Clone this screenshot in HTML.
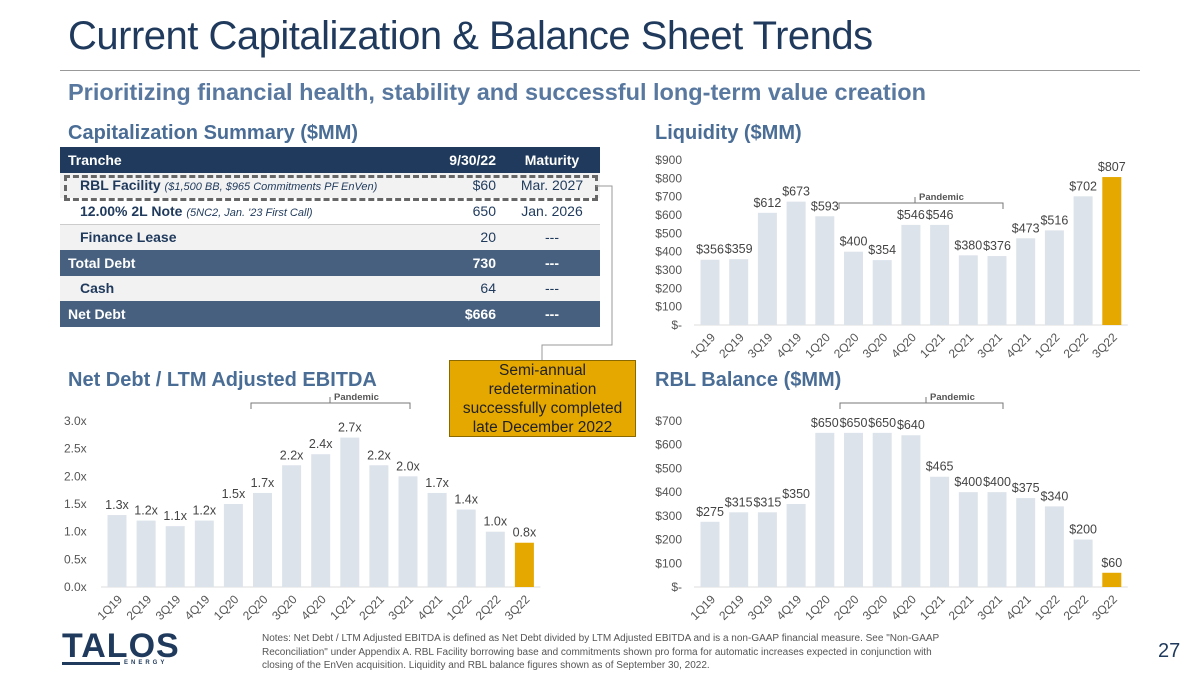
<!DOCTYPE html>
<html><head><meta charset="utf-8">
<style>
body{margin:0;width:1200px;height:675px;background:#fff;font-family:"Liberation Sans",sans-serif;position:relative;overflow:hidden}
.abs{position:absolute}
h1{position:absolute;left:68px;top:14px;margin:0;font-weight:normal;font-size:40px;color:#1f3a5c;letter-spacing:-0.5px}
.sub{left:68px;top:79px;font-size:23.5px;font-weight:bold;color:#5878a0;letter-spacing:0px}
.sec{font-size:20px;font-weight:bold;color:#4a6d96}
table{position:absolute;left:60px;top:147px;width:540px;border-collapse:collapse;font-size:14px;color:#1f3a5c}
td{height:25.5px;padding:0 8px;white-space:nowrap}
tr.hd td{background:#1f3a5c;color:#fff;font-weight:bold}
tr.tot td{background:#47607f;color:#fff;font-weight:bold}
tr.lt td{background:#f2f2f2}
tr.wh td{background:#fff;border-bottom:1px solid #ccc}
td.v{text-align:right;width:70px}
td.m{text-align:center;width:80px}
i{font-size:11px;font-weight:normal}
.callout{left:449px;top:360px;width:187px;height:77px;background:#e5a800;border:1px solid #8a6a00;box-sizing:border-box;font-size:15.5px;text-align:center;line-height:19px;color:#222;padding-top:0px}
.notes{left:262px;top:632px;width:700px;font-size:10px;color:#555;line-height:13.5px}
</style></head><body>
<h1>Current Capitalization &amp; Balance Sheet Trends</h1>
<div class="abs" style="left:60px;top:70px;width:1080px;height:1px;background:#999"></div>
<div class="abs sub">Prioritizing financial health, stability and successful long-term value creation</div>
<div class="abs sec" style="left:68px;top:122px">Capitalization Summary ($MM)</div>
<div class="abs sec" style="left:655px;top:122px">Liquidity ($MM)</div>
<div class="abs sec" style="left:68px;top:369px">Net Debt / LTM Adjusted EBITDA</div>
<div class="abs sec" style="left:655px;top:369px">RBL Balance ($MM)</div>

<table>
<tr class="hd"><td>Tranche</td><td class="v">9/30/22</td><td class="m">Maturity</td></tr>
<tr class="lt"><td style="padding-left:20px"><b>RBL Facility</b> <i>($1,500 BB, $965 Commitments PF EnVen)</i></td><td class="v">$60</td><td class="m">Mar. 2027</td></tr>
<tr class="wh"><td style="padding-left:20px"><b>12.00% 2L Note</b> <i>(5NC2, Jan. '23 First Call)</i></td><td class="v">650</td><td class="m">Jan. 2026</td></tr>
<tr class="lt"><td style="padding-left:20px"><b>Finance Lease</b></td><td class="v">20</td><td class="m">---</td></tr>
<tr class="tot"><td>Total Debt</td><td class="v">730</td><td class="m">---</td></tr>
<tr class="lt"><td style="padding-left:20px"><b>Cash</b></td><td class="v">64</td><td class="m">---</td></tr>
<tr class="tot"><td>Net Debt</td><td class="v">$666</td><td class="m">---</td></tr>
</table>
<div class="abs" style="left:64px;top:175px;width:528px;height:20px;border:3px dashed #666"></div>

<svg class="abs" style="left:0;top:0" width="1200" height="675" id="svg">
<polyline points="596,186 612,186 612,345 542,345 542,360" fill="none" stroke="#999" stroke-width="1"/>
</svg>
<div class="abs callout">Semi-annual<br>redetermination<br>successfully completed<br>late December 2022</div>

<div class="abs" style="left:62px;top:630px;font-size:34px;font-weight:bold;color:#1f3a5c;letter-spacing:1px;line-height:32px">TALOS</div>
<div class="abs" style="left:124px;top:660px;font-size:6px;font-weight:bold;color:#1f3a5c;letter-spacing:3px">ENERGY</div>
<div class="abs" style="left:62px;top:662px;width:58px;height:3px;background:#1f3a5c"></div>
<div class="abs notes">Notes: Net Debt / LTM Adjusted EBITDA is defined as Net Debt divided by LTM Adjusted EBITDA and is a non-GAAP financial measure. See "Non-GAAP Reconciliation" under Appendix A. RBL Facility borrowing base and commitments shown pro forma for automatic increases expected in conjunction with closing of the EnVen acquisition. Liquidity and RBL balance figures shown as of September 30, 2022.</div>
<div class="abs" style="left:1158px;top:640px;font-size:20px;color:#1f3a5c">27</div>

<script>
const quarters = ["1Q19","2Q19","3Q19","4Q19","1Q20","2Q20","3Q20","4Q20","1Q21","2Q21","3Q21","4Q21","1Q22","2Q22","3Q22"];
const liquidity = [356,359,612,673,593,400,354,546,546,380,376,473,516,702,807];
const leverage = [1.3,1.2,1.1,1.2,1.5,1.7,2.2,2.4,2.7,2.2,2.0,1.7,1.4,1.0,0.8];
const rbl = [275,315,315,350,650,650,650,640,465,400,400,375,340,200,60];
const liqTicks = [0,100,200,300,400,500,600,700,800,900];
const levTicks = [0,0.5,1.0,1.5,2.0,2.5,3.0];
const rblTicks = [0,100,200,300,400,500,600,700];

const svg = document.getElementById('svg');
const NS = 'http://www.w3.org/2000/svg';
function mk(tag, attrs, txt){const e=document.createElementNS(NS,tag);for(const k in attrs)e.setAttribute(k,attrs[k]);if(txt!==undefined)e.textContent=txt;svg.appendChild(e);return e;}

function chart(o){
  const y = v => o.y0 - (v - o.min)/(o.max - o.min)*(o.y0 - o.y1);
  const x = i => o.x0 + i*o.step;
  o.ticks.forEach(t=>{
    const e = mk('text',{x:o.tickX,y:y(t)+4,'font-size':12,fill:'#555','text-anchor':o.tickAnchor},o.tickFmt(t));
    
    
  });
  const ax = mk('line',{x1:x(0)-16,x2:x(o.vals.length-1)+16,y1:o.y0,y2:o.y0,stroke:'#ddd'});
  
  
  o.vals.forEach((v,i)=>{
    const last = i===o.vals.length-1;
    const r = mk('rect',{x:x(i)-9.5,y:y(v),width:19,height:o.y0-y(v),fill:last?'#e5a800':'#dde3eb'});
    
    
    const l = mk('text',{x:x(i),y:y(v)-6,'font-size':12.5,fill:'#444','text-anchor':'middle'},o.fmt(v));
    
    
    const q = mk('text',{x:0,y:0,'font-size':12,fill:'#555','text-anchor':'end',transform:`translate(${x(i)+6},${o.y0+13}) rotate(-45)`},quarters[i]);
    
    
  });
}
function bracket(x1,x2,yb,xm,id){
  const p = mk('path',{d:`M${x1},${yb+6} L${x1},${yb} L${x2},${yb} L${x2},${yb+6} M${xm},${yb} L${xm},${yb-6}`,fill:'none',stroke:'#777','stroke-width':1});
  
  
  const t = mk('text',{x:xm+4,y:yb-3,'font-size':9.5,'font-weight':'bold',fill:'#555'},'Pandemic');
  
  
}
const dol = v => v===0 ? '$-' : '$'+v;
chart({id:'liquidity',vals:liquidity,ticks:liqTicks,min:0,max:900,y0:325,y1:160,x0:710,step:28.7,tickX:682,tickAnchor:'end',tickFmt:dol,fmt:v=>'$'+v});
chart({id:'leverage',vals:leverage,ticks:levTicks,min:0,max:3,y0:587,y1:421,x0:117,step:29.1,tickX:64,tickAnchor:'start',tickFmt:t=>t.toFixed(1)+'x',fmt:v=>v.toFixed(1)+'x'});
chart({id:'rbl',vals:rbl,ticks:rblTicks,min:0,max:700,y0:587,y1:421,x0:710,step:28.7,tickX:682,tickAnchor:'end',tickFmt:dol,fmt:v=>'$'+v});
bracket(839,1003,203,915,'liquidity');
bracket(251,410,403,330,'leverage');
bracket(840,1003,403,926,'rbl');
</script>
</body></html>
